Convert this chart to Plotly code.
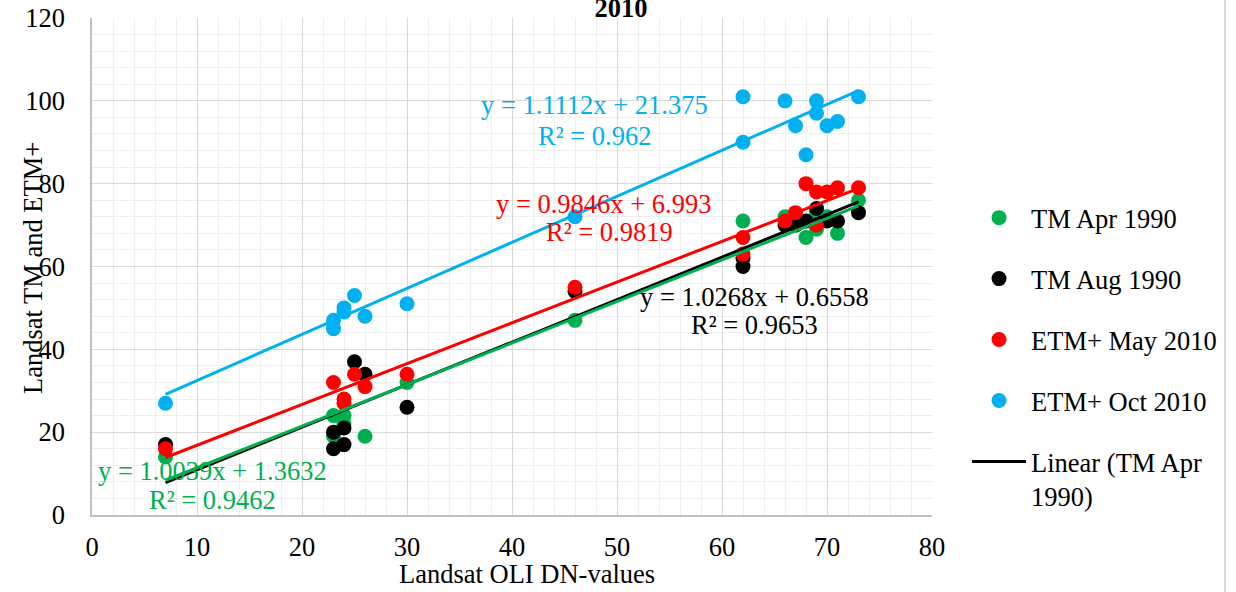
import plotly.graph_objects as go

# ---------------- data ----------------
series_names = ["TM Apr 1990", "TM Aug 1990", "ETM+ May 2010", "ETM+ Oct 2010"]
series_colors = ["#00b050", "#000000", "#ff0000", "#00b0f0"]

tm_apr_x = [7, 23, 23, 24, 24, 26, 30, 46, 62, 66, 68, 69, 69, 70, 71, 73]
tm_apr_y = [14, 24, 19, 24, 22, 19, 32, 47, 71, 72, 67, 73, 69, 72, 68, 76]

tm_aug_x = [7, 23, 23, 24, 24, 25, 26, 30, 46, 62, 62, 66, 67, 68, 69, 70, 71, 73]
tm_aug_y = [17, 20, 16, 21, 17, 37, 34, 26, 54, 62, 60, 70, 70, 71, 74, 71, 71, 73]

etm_may_x = [7, 23, 24, 24, 25, 26, 30, 46, 62, 62, 66, 67, 68, 69, 69, 70, 71, 73]
etm_may_y = [16, 32, 28, 27, 34, 31, 34, 55, 67, 63, 71, 73, 80, 78, 70, 78, 79, 79]

etm_oct_x = [7, 23, 23, 24, 24, 25, 26, 30, 46, 62, 62, 66, 67, 68, 69, 69, 70, 71, 73]
etm_oct_y = [27, 47, 45, 50, 49, 53, 48, 51, 72, 101, 90, 100, 94, 87, 100, 97, 94, 95, 101]

# trendlines (Excel linear fits as labelled on the chart)
trend_colors = ["#000000", "#00b050", "#ff0000", "#00b0f0"]
trend_slopes = [1.0268, 1.0039, 0.9846, 1.1112]
trend_intercepts = [0.6558, 1.3632, 6.993, 21.375]
trend_x_range = [7, 73]
trend_labels = ["y = 1.0268x + 0.6558", "y = 1.0039x + 1.3632", "y = 0.9846x + 6.993", "y = 1.1112x + 21.375"]
trend_r2 = ["R² = 0.9653", "R² = 0.9462", "R² = 0.9819", "R² = 0.962"]

x_ticks = [0, 10, 20, 30, 40, 50, 60, 70, 80]
y_ticks = [0, 20, 40, 60, 80, 100, 120]

FONT = "Times New Roman, Liberation Serif, serif"
FS = 26.5

fig = go.Figure()

xs_all = [tm_apr_x, tm_aug_x, etm_may_x, etm_oct_x]
ys_all = [tm_apr_y, tm_aug_y, etm_may_y, etm_oct_y]
for i in range(4):
    fig.add_trace(go.Scatter(
        x=xs_all[i], y=ys_all[i], mode="markers", name=series_names[i],
        legendgroup="g%d" % i,
        marker=dict(color=series_colors[i], size=15, line=dict(width=0)),
    ))

for i in range(4):
    xr = trend_x_range
    yr = [trend_slopes[i] * v + trend_intercepts[i] for v in xr]
    fig.add_trace(go.Scatter(
        x=xr, y=yr, mode="lines",
        name="Linear (TM Apr<br>1990)" if i == 0 else "Linear",
        showlegend=(i == 0), legendgroup="t%d" % i,
        line=dict(color=trend_colors[i], width=3),
    ))

# equation labels
ann_pos = [  # (x_eq, y_eq, x_r2, y_r2) in data units
    (63.05, 52.6, 63.1, 45.9),
    (11.43, 10.6, 11.52, 3.6),
    (48.76, 75.1, 49.33, 68.3),
    (47.86, 99.0, 47.9, 91.5),
]
annotations = []
for i in range(4):
    xe, ye, xr2, yr2 = ann_pos[i]
    annotations.append(dict(x=xe, y=ye, xref="x", yref="y", text=trend_labels[i], showarrow=False,
                            font=dict(family=FONT, size=FS, color=trend_colors[i])))
    annotations.append(dict(x=xr2, y=yr2, xref="x", yref="y", text=trend_r2[i], showarrow=False,
                            font=dict(family=FONT, size=FS, color=trend_colors[i])))

annotations.append(dict(x=0.5179, y=-0.118, xref="paper", yref="paper", text="Landsat OLI DN-values",
                        showarrow=False, xanchor="center", yanchor="middle",
                        font=dict(family=FONT, size=FS, color="black")))
annotations.append(dict(x=-0.0702, y=0.497, xref="paper", yref="paper", text="Landsat TM and ETM+",
                        showarrow=False, textangle=-90, xanchor="center", yanchor="middle",
                        font=dict(family=FONT, size=FS, color="black")))

axis_common = dict(
    showgrid=True, gridcolor="#d9d9d9", gridwidth=1,
    showline=True, linecolor="#bfbfbf", linewidth=1.5,
    zeroline=False, ticks="",
    tickfont=dict(family=FONT, size=FS, color="black"),
    automargin=False,
)

fig.update_layout(
    width=1236, height=592, autosize=False,
    margin=dict(l=92, r=304, t=18, b=77, pad=0, autoexpand=False),
    paper_bgcolor="white", plot_bgcolor="white",
    title=dict(text="<b>2010</b>", x=0.5024, y=0.9865, xanchor="center", yanchor="middle",
               font=dict(family=FONT, size=FS, color="black"), automargin=False),
    xaxis=dict(range=[0, 80], tickvals=x_ticks, ticklabelstandoff=7,
               minor=dict(dtick=2, showgrid=True, gridcolor="#eeeeee", gridwidth=1), **axis_common),
    yaxis=dict(range=[0, 120], tickvals=y_ticks, ticklabelstandoff=20,
               minor=dict(dtick=4, showgrid=True, gridcolor="#eeeeee", gridwidth=1), **axis_common),
    legend=dict(x=1.0417, y=0.646, xanchor="left", yanchor="top", valign="top",
                font=dict(family=FONT, size=FS, color="black"),
                tracegroupgap=23.5, itemwidth=54, bgcolor="rgba(0,0,0,0)"),
    annotations=annotations,
    shapes=[dict(type="line", xref="paper", yref="paper", x0=1.3488, x1=1.3488, y0=-0.16, y1=1.04,
                 line=dict(color="#d9d9d9", width=2))],
    showlegend=True,
)

fig.write_html("out.html", config={"displayModeBar": False},
               post_script="document.body.style.margin='0';document.body.style.overflow='hidden';")
